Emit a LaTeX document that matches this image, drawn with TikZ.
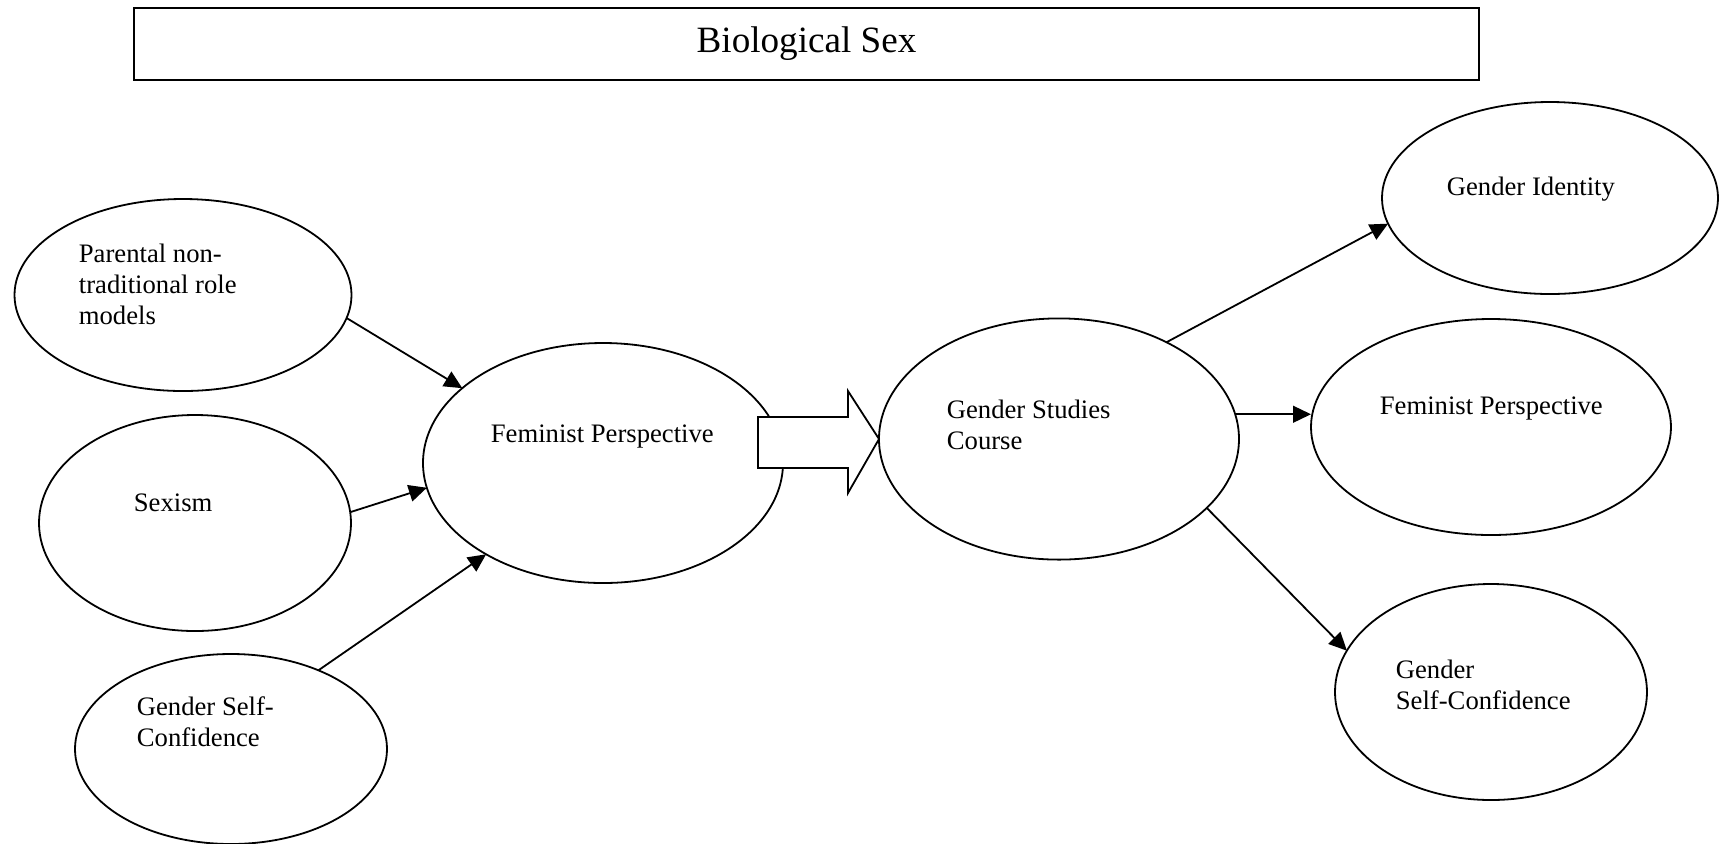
\documentclass[tikz,border=0pt]{standalone}
\usepackage{fontspec}
\setmainfont{Liberation Serif}
\usetikzlibrary{arrows.meta,shapes.geometric}
\begin{document}
\begin{tikzpicture}[x=0.44444pt,y=-0.44444pt,line width=0.8pt,
  ell/.style 2 args={draw,ellipse,inner sep=0pt,outer sep=0pt,
    minimum width={0.88889pt*#1},minimum height={0.88889pt*#2}},
  lbl/.style={inner sep=0pt,anchor=west,align=left,font=\fontsize{11.85}{13.8}\selectfont},
  conn/.style={-{Triangle[length=8pt,width=7.5pt]}},
  blockarrow/.style={draw,fill=white,line join=miter}]
\useasboundingbox (0,0) rectangle (1727,843);
% title box
\node[draw,inner sep=0pt,outer sep=0pt,minimum width={0.44444pt*1345},minimum height={0.44444pt*72.7},
  font=\fontsize{16.5}{19}\selectfont] (bio) at (806.5,44) {Biological Sex};
% ellipses
\node[ell={168.5}{96}]   (par)  at (183,295) {};
\node[ell={156}{108}]    (sex)  at (195,523) {};
\node[ell={156}{95}]     (gscL) at (231,749) {};
\node[ell={180}{120}]    (femL) at (603,463) {};
\node[ell={180}{120.6}]  (gsc)  at (1059,439) {};
\node[ell={168}{96}]     (gi)   at (1550,198) {};
\node[ell={180}{108}]    (femR) at (1491,427) {};
\node[ell={156}{108}]    (gscR) at (1491,692) {};
% labels
\node[lbl] (tpar)  at (78,284)   {Parental non-\\traditional role\\models};
\node[lbl] (tsex)  at (133,503)  {Sexism};
\node[lbl] (tgscL) at (136,722)  {Gender Self-\\Confidence};
\node[lbl] (tfemL) at (490,436)  {Feminist Perspective};
\node[lbl] (tgsc)  at (946,425)  {Gender Studies\\Course};
\node[lbl] (tgi)   at (1446,189) {Gender Identity};
\node[lbl] (tfemR) at (1379,408) {Feminist Perspective};
\node[lbl] (tgscR) at (1395,685) {Gender\\Self-Confidence};
% connectors
\draw[conn] (par.-8)  -- (femL.152);
\draw[conn] (sex.4)   -- (femL.188);
\draw[conn] (gscL.42) -- (femL.218);
\draw[conn] (gsc.42)  -- (gi.189);
\draw[conn] (gsc.8)   -- (gsc.8 -| femR.west);
\draw[conn] (gsc.-25) -- (gscR.164);
% block arrow
\coordinate (ba1) at (758,417);
\coordinate (ba2) at (848,417);
\coordinate (ba3) at (848,391);
\coordinate (ba5) at (848,493);
\coordinate (ba6) at (848,468);
\coordinate (ba7) at (758,468);
\draw[blockarrow] (ba1) -- (ba2) -- (ba3) -- (gsc.west) -- (ba5) -- (ba6) -- (ba7) -- cycle;
\end{tikzpicture}
\end{document}
